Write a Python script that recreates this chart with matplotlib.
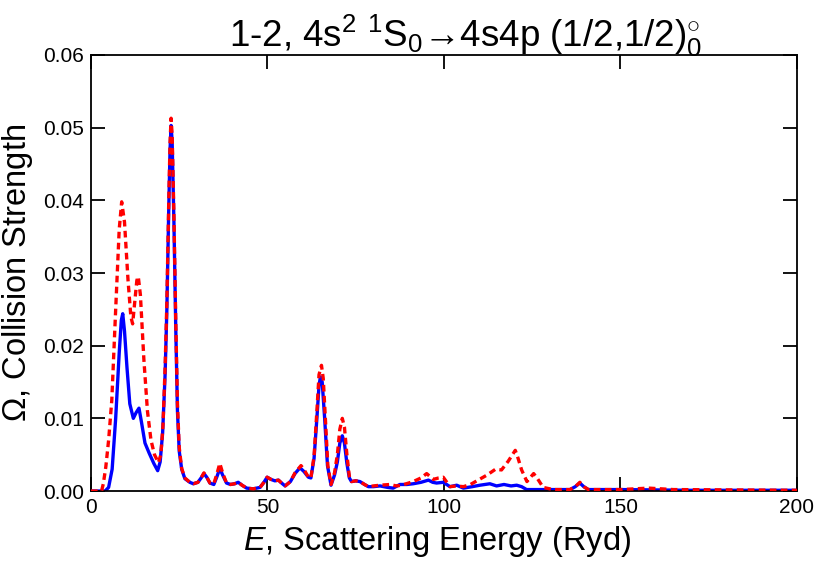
import matplotlib
matplotlib.use("Agg")
import matplotlib.pyplot as plt

plt.rcParams['font.family'] = ['Liberation Sans', 'DejaVu Sans']
plt.rcParams['mathtext.fontset'] = 'custom'
plt.rcParams['mathtext.rm'] = 'Liberation Sans'
plt.rcParams['mathtext.it'] = 'Liberation Sans:italic'
plt.rcParams['mathtext.bf'] = 'Liberation Sans:bold'

# Blue solid curve (E in Ryd, collision strength)
blue_E = [0, 4, 5, 6, 7, 8, 8.6, 9.0, 9.5, 10.2, 11.0, 12.0, 12.8, 13.6, 14.3, 15.3,
          16.5, 17.8, 18.9, 19.6, 20.3, 21.0, 21.5, 22.0, 22.4, 22.7, 23.0, 23.5, 24.0,
          24.5, 25.0, 25.7, 26.6, 28.0, 29.0, 30.3, 31.2, 32.0, 32.8, 33.7, 34.8, 35.7,
          36.5, 37.3, 38.4, 39.5, 40.7, 41.7, 42.8, 44.1, 46.0, 47.9, 49.0, 49.9, 51.0,
          52.1, 53.1, 54.0, 55.0, 56.5, 57.8, 59.2, 60.3, 61.6, 62.3, 63.2, 64.0, 64.6,
          65.0, 65.5, 66.2, 67.0, 68.0, 69.0, 69.8, 70.5, 71.2, 71.8, 72.5, 73.2, 73.8,
          75.0, 76.2, 77.5, 78.6, 80.0, 81.9, 84.0, 85.6, 87.5, 89.5, 91.3, 93.5, 95.6,
          96.8, 97.9, 99.8, 101.7, 103.6, 105.5, 108.0, 110.2, 113.0, 114.9, 117.0,
          119.0, 120.6, 122.0, 123.4, 126.0, 129.1, 133.0, 135.7, 137.2, 138.5, 139.6,
          140.9, 150, 170, 200]
blue_O = [0, 0, 0.0005, 0.003, 0.010, 0.019, 0.0235, 0.0244, 0.022, 0.017, 0.012, 0.0100,
          0.0108, 0.0114, 0.0095, 0.0066, 0.0052, 0.0038, 0.0028, 0.0040, 0.008, 0.016,
          0.025, 0.038, 0.047, 0.0503, 0.048, 0.037, 0.023, 0.011, 0.0055, 0.0030, 0.0017,
          0.0012, 0.0010, 0.0012, 0.0018, 0.0024, 0.0019, 0.0011, 0.0009, 0.0020, 0.0031,
          0.0022, 0.0011, 0.0009, 0.0010, 0.0012, 0.0008, 0.0004, 0.0003, 0.0005, 0.0012,
          0.0019, 0.0016, 0.0014, 0.0015, 0.0011, 0.0007, 0.0013, 0.0024, 0.0032, 0.0027,
          0.0019, 0.0018, 0.0045, 0.0100, 0.0145, 0.0157, 0.0150, 0.0100, 0.0035, 0.0008,
          0.0022, 0.0040, 0.0066, 0.0076, 0.0066, 0.0038, 0.0018, 0.0013, 0.0014, 0.0013,
          0.0009, 0.0006, 0.0006, 0.0007, 0.0005, 0.0004, 0.0009, 0.0009, 0.0010, 0.0012,
          0.0015, 0.0012, 0.0011, 0.0012, 0.0006, 0.0008, 0.0004, 0.0006, 0.0008, 0.0010,
          0.0007, 0.0009, 0.0007, 0.0008, 0.0006, 0.0002, 0.0002, 0.0002, 0.0002, 0.0002,
          0.0006, 0.0011, 0.0006, 0.0002, 0.0002, 0.0001, 0.0001]

# Red dashed curve
red_E = [0, 3.0, 3.5, 4.2, 5.0, 5.9, 7.0, 8.0, 8.7, 9.5, 10.5, 11.3, 11.8, 12.4, 13.0,
         13.4, 14.0, 15.0, 16.0, 17.0, 18.0, 19.1, 19.8, 20.4, 21.0, 21.5, 22.0, 22.4,
         22.7, 23.0, 23.5, 24.0, 24.5, 25.0, 25.7, 26.6, 28.0, 29.0, 30.3, 31.2, 32.0,
         32.8, 33.7, 34.8, 35.7, 36.5, 37.3, 38.4, 39.5, 40.7, 41.7, 42.8, 44.1, 46.0,
         47.9, 49.0, 49.9, 51.0, 52.1, 53.1, 54.0, 55.0, 56.5, 57.8, 59.5, 60.3, 61.6,
         62.3, 63.2, 64.0, 64.6, 65.3, 65.8, 66.4, 67.1, 68.0, 69.0, 69.8, 70.5, 71.2,
         71.8, 72.5, 73.2, 73.8, 75.0, 76.2, 77.5, 78.6, 80.0, 81.9, 84.7, 86.5, 88.0,
         91.3, 93.5, 95.1, 97.0, 98.5, 99.8, 101.7, 103.6, 105.5, 107.5, 109.3, 112.2,
         114.6, 116.3, 118.2, 120.2, 121.0, 122.0, 123.5, 125.4, 126.5, 128.1, 130.9,
         135.7, 137.2, 138.5, 139.6, 140.9, 150, 158, 165, 200]
red_O = [0, 0, 0.0010, 0.0033, 0.0070, 0.0125, 0.0250, 0.0360, 0.0398, 0.0370, 0.0290,
         0.0240, 0.0230, 0.0260, 0.0290, 0.0295, 0.0270, 0.0180, 0.0110, 0.0070, 0.0050,
         0.0039, 0.0050, 0.0090, 0.0170, 0.0260, 0.0390, 0.0480, 0.0513, 0.0490, 0.0380,
         0.0240, 0.0120, 0.0060, 0.0031, 0.0018, 0.0012, 0.0010, 0.0012, 0.0018, 0.0025,
         0.0019, 0.0011, 0.0010, 0.0024, 0.0038, 0.0025, 0.0011, 0.0009, 0.0010, 0.0012,
         0.0008, 0.0004, 0.0003, 0.0005, 0.0012, 0.0019, 0.0016, 0.0014, 0.0015, 0.0011,
         0.0007, 0.0013, 0.0025, 0.0035, 0.0030, 0.0019, 0.0018, 0.0048, 0.0110, 0.0160,
         0.0173, 0.0155, 0.0100, 0.0035, 0.0009, 0.0025, 0.0050, 0.0085, 0.0100, 0.0088,
         0.0050, 0.0020, 0.0013, 0.0014, 0.0013, 0.0009, 0.0006, 0.0007, 0.0008, 0.0009,
         0.0007, 0.0008, 0.0013, 0.0018, 0.0024, 0.0016, 0.0018, 0.0019, 0.0006, 0.0007,
         0.0006, 0.0009, 0.0014, 0.0022, 0.0030, 0.0029, 0.0041, 0.0056, 0.0045, 0.0029,
         0.0013, 0.0024, 0.0017, 0.0005, 0.0002, 0.0002, 0.0006, 0.0012, 0.0006, 0.0002,
         0.0002, 0.0004, 0.0002, 0.0001]

x_ticks = [0, 50, 100, 150, 200]
y_ticks = [0.00, 0.01, 0.02, 0.03, 0.04, 0.05, 0.06]

fig = plt.figure(figsize=(8.3, 5.67), dpi=100)
ax = fig.add_axes([0.1096, 0.134, 0.8506, 0.769])

ax.plot(blue_E, blue_O, color='#0000ff', lw=2.4, solid_joinstyle='round', zorder=2)
ax.plot(red_E, red_O, color='#ff0000', lw=2.4, dashes=(2.0, 1.3), zorder=3)

ax.set_xlim(0, 200)
ax.set_ylim(0, 0.06)
ax.set_xticks(x_ticks)
ax.set_xticklabels([str(v) for v in x_ticks])
ax.set_yticks(y_ticks)
ax.set_yticklabels([f"{v:.2f}" for v in y_ticks])
ax.tick_params(direction='in', length=10, width=1.3, top=True, right=True,
               labelsize=15, pad=5)
for s in ax.spines.values():
    s.set_linewidth(1.3)

ax.set_xlabel(r'$E$, Scattering Energy (Ryd)', fontsize=23.5, labelpad=3)
ax.xaxis.set_label_coords(0.49, -0.075)
ax.set_ylabel(r'$\Omega$, Collision Strength', fontsize=23.5, labelpad=6)
ax.set_title('1-2, 4s$^2$ $^1$S$_0$\u21924s4p (1/2,1/2$)^{\\circ}_{0}$',
             fontsize=26.5, pad=6, x=0.53)

fig.savefig('out.png', dpi=100)
